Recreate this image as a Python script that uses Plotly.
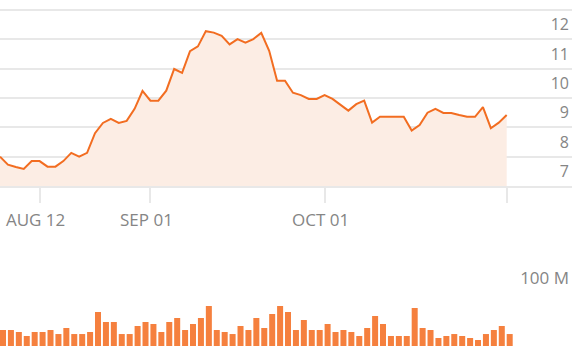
import plotly.graph_objects as go

# ---- data ----
day_index = list(range(65))
price = [7.50, 7.23, 7.15, 7.08, 7.35, 7.35, 7.16, 7.16, 7.35, 7.63,
         7.50, 7.63, 8.30, 8.65, 8.79, 8.65, 8.72, 9.13, 9.74, 9.41,
         9.41, 9.75, 10.49, 10.36, 11.10, 11.26, 11.78, 11.73, 11.62, 11.33,
         11.51, 11.39, 11.51, 11.72, 11.11, 10.09, 10.09, 9.68, 9.60, 9.47,
         9.47, 9.60, 9.47, 9.26, 9.07, 9.29, 9.41, 8.66, 8.86, 8.86,
         8.86, 8.86, 8.39, 8.58, 9.00, 9.13, 8.99, 8.99, 8.92, 8.86,
         8.86, 9.19, 8.47, 8.66, 8.92]
volume_m = [23.5, 23.5, 20.6, 14.7, 20.6, 20.6, 23.5, 17.6, 26.5, 17.6,
            17.6, 20.6, 50.0, 35.3, 35.3, 17.6, 17.6, 29.4, 35.3, 32.4,
            20.6, 35.3, 41.2, 23.5, 32.4, 41.2, 58.8, 23.5, 20.6, 17.6,
            29.4, 23.5, 41.2, 26.5, 47.1, 58.8, 50.0, 23.5, 38.2, 23.5,
            23.5, 32.4, 20.6, 23.5, 20.6, 14.7, 26.5, 44.1, 32.4, 14.7,
            14.7, 14.7, 55.9, 26.5, 23.5, 11.8, 14.7, 17.6, 14.7, 11.8,
            8.8, 17.6, 23.5, 29.4, 17.6]
x_tick_vals = [5, 19, 41, 64]
x_tick_text = ["AUG 12", "SEP 01", "OCT 01", ""]
price_ticks = [7, 8, 9, 10, 11, 12]
price_grid = [7.5, 8.5, 9.5, 10.5, 11.5, 12.5]
volume_ticks = [100]
volume_tick_text = ["100 M"]

LINE = "#f26d21"
FILL = "#fcede4"
BAR = "#f5803e"
GRID = "#e8e8e8"
TXT = "#858585"
FONT = "Open Sans"

fig = go.Figure()
fig.add_trace(go.Scatter(x=day_index, y=price, mode="lines",
                         line=dict(color=LINE, width=2), fill="tozeroy",
                         fillcolor=FILL, xaxis="x", yaxis="y",
                         hoverinfo="skip"))
fig.add_trace(go.Bar(x=day_index, y=volume_m, marker=dict(color=BAR, line=dict(width=0)),
                     offset=0, width=0.76, xaxis="x2", yaxis="y2",
                     hoverinfo="skip"))

fig.update_layout(
    width=572, height=356, margin=dict(l=0, r=0, t=0, b=0),
    paper_bgcolor="white", plot_bgcolor="rgba(0,0,0,0)",
    showlegend=False,
    font=dict(family=FONT, size=16, color=TXT),
    xaxis=dict(domain=[0, 1], range=[0, 72.25], anchor="y",
               tickmode="array", tickvals=x_tick_vals, ticktext=x_tick_text,
               ticks="outside", ticklen=15, tickwidth=2, tickcolor=GRID,
               ticklabelshift=-4, ticklabelstandoff=3,
               showgrid=False, zeroline=False,
               showline=True, linecolor=GRID, linewidth=2,
               tickfont=dict(family=FONT, size=17, color=TXT)),
    yaxis=dict(domain=[1 - 186 / 356, 1 - 7.1 / 356], range=[6.5, 12.6],
               side="right", anchor="x",
               tickmode="array", tickvals=price_ticks,
               ticklabelposition="inside", ticks="",
               showgrid=False, zeroline=False, showline=False,
               minor=dict(tickmode="array", tickvals=price_grid, showgrid=True,
                          gridcolor=GRID, gridwidth=2, ticks=""),
               tickfont=dict(family=FONT, size=16, color=TXT)),
    xaxis2=dict(domain=[0, 1], range=[0, 72.25], anchor="y2", matches="x",
                showticklabels=False, ticks="", showgrid=False,
                zeroline=False, showline=False),
    yaxis2=dict(domain=[1 - 346 / 356, 1 - 250 / 356], range=[0, 141.18],
                side="right", anchor="x2",
                tickmode="array", tickvals=volume_ticks, ticktext=volume_tick_text,
                ticklabelposition="inside", ticks="",
                showgrid=False, zeroline=False, showline=False,
                tickfont=dict(family=FONT, size=17, color=TXT)),
)

fig.write_html("out.html")
